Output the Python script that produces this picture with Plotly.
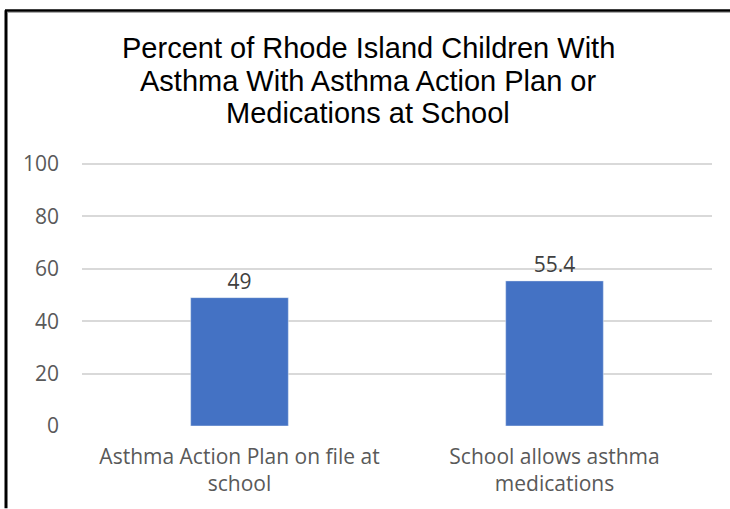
import plotly.graph_objects as go

categories = ["Asthma Action Plan on file at<br>school", "School allows asthma<br>medications"]
values = [49, 55.4]
value_labels = ["49", "55.4"]
y_ticks = [0, 20, 40, 60, 80, 100]
title_lines = [
    "Percent of Rhode Island Children With",
    "Asthma With Asthma Action Plan or",
    "Medications at School",
]

W, H = 730, 509
L, R, T, B = 82, 18, 163, 81

def px_x(px):
    return (px - L) / (W - L - R)

def px_y(py):
    return (H - B - py) / (H - T - B)

fig = go.Figure(go.Bar(
    x=categories, y=values,
    marker_color="#4472C4",
    text=value_labels, textposition="outside",
    textfont=dict(size=21, color="#404040", family="Open Sans"),
    cliponaxis=False,
))

# three-line title, one annotation per line for tight line spacing
title_centers = [47.5, 80.5, 112.5]
annotations = [
    dict(text=line, xref="paper", yref="paper",
         x=px_x(368), y=px_y(cy), xanchor="center", yanchor="middle",
         showarrow=False,
         font=dict(family="Liberation Sans, Arial", size=29, color="black"))
    for line, cy in zip(title_lines, title_centers)
]

fig.update_layout(
    width=W, height=H,
    margin=dict(l=L, r=R, t=T, b=B),
    paper_bgcolor="white", plot_bgcolor="white",
    bargap=0.69,
    showlegend=False,
    annotations=annotations,
    xaxis=dict(
        tickfont=dict(size=21, color="#595959", family="Open Sans"),
        showline=False, showgrid=False, ticks="",
        ticklabelstandoff=16,
    ),
    yaxis=dict(
        range=[0, 100.4], tickvals=y_ticks,
        tickfont=dict(size=21, color="#595959", family="Open Sans"),
        gridcolor="#D9D9D9", gridwidth=1.5,
        zeroline=False, showline=False, ticks="",
        ticklabelstandoff=22,
    ),
    shapes=[
        dict(type="line", xref="paper", yref="paper",
             x0=px_x(6), x1=px_x(6), y0=px_y(9), y1=px_y(H + 2),
             line=dict(color="black", width=3)),
        dict(type="line", xref="paper", yref="paper",
             x0=px_x(5), x1=px_x(W + 2), y0=px_y(9.5), y1=px_y(9.5),
             line=dict(color="black", width=3)),
        dict(type="line", xref="paper", yref="paper",
             x0=px_x(7), x1=px_x(W + 2), y0=px_y(11), y1=px_y(11),
             line=dict(color="#A0A0A0", width=1)),
    ],
)

fig.write_html("out.html")
